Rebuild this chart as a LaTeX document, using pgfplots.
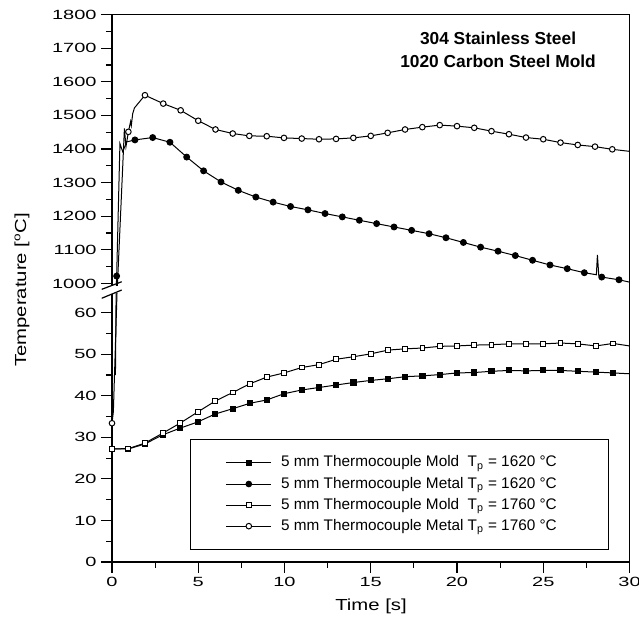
\documentclass[border=0pt]{standalone}
\usepackage{fontspec}
\setmainfont{Liberation Sans}
\newfontfamily\tickfont[FakeStretch=1.5]{Liberation Sans}
\newfontfamily\labfont[FakeStretch=1.27]{Liberation Sans}
\usepackage{pgfplots}
\usepackage{pgfplotstable}
\pgfplotsset{compat=1.18}

% Metal, Tp = 1620 C (filled circles)
\pgfplotstableread{
t T
0.20 45
0.24 66
0.25 990
0.27 1022
0.46 1416
0.62 1392
0.85 1421
1.33 1427
2.36 1434
3.36 1420
4.33 1376
5.31 1335
6.32 1302
7.32 1277
8.34 1257
9.34 1242
10.35 1229
11.36 1219
12.35 1208
13.35 1198
14.34 1188
15.34 1178
16.35 1168
17.37 1158
18.38 1148
19.36 1136
20.37 1122
21.37 1108
22.38 1096
23.38 1083
24.38 1069
25.39 1055
26.39 1044
27.38 1032
28.08 1026
28.14 1085
28.22 1023
28.39 1019
29.39 1011
30.00 1004
}\metalA

% Metal, Tp = 1760 C (open circles)
\pgfplotstableread{
t T
0.00 33.4
0.08 36.2
0.30 66
0.31 990
0.72 1461
0.81 1407
0.95 1451
1.08 1482
1.12 1470
1.20 1505
1.30 1522
1.91 1560
2.97 1535
3.98 1515
5.00 1484
6.00 1458
7.00 1446
7.96 1439
8.97 1438
9.97 1433
11.00 1431
12.00 1429
12.99 1430
13.99 1433
15.00 1439
15.98 1448
16.99 1458
17.99 1465
19.00 1471
20.00 1468
21.00 1463
22.00 1453
23.01 1444
24.00 1434
25.00 1429
26.00 1419
27.00 1412
28.00 1407
29.00 1399
30.00 1393
}\metalB

% Mold, Tp = 1620 C (filled squares)
\pgfplotstableread{
t T
0.00 27.2
0.95 27.2
1.90 28.4
2.94 30.6
3.94 32.2
4.97 33.7
5.97 35.6
7.00 36.9
8.00 38.2
8.97 39.0
9.97 40.5
11.00 41.4
12.00 42.0
13.00 42.6
14.00 43.2
15.00 43.7
16.00 44.1
17.00 44.6
18.00 44.8
19.00 45.1
20.00 45.5
21.00 45.6
22.00 45.9
23.00 46.1
24.00 46.0
25.00 46.1
26.00 46.1
27.00 45.9
28.05 45.7
29.05 45.5
30.00 45.3
}\moldA

% Mold, Tp = 1760 C (open squares)
\pgfplotstableread{
t T
0.00 27.2
0.95 27.3
1.90 28.6
2.94 31.0
3.94 33.4
4.97 36.1
5.97 38.7
7.00 40.8
8.00 42.9
8.97 44.5
9.97 45.5
11.00 46.8
12.00 47.5
13.00 48.8
14.00 49.4
15.00 50.1
16.00 51.0
17.00 51.3
18.00 51.5
19.00 51.9
20.00 52.0
21.00 52.2
22.00 52.3
23.00 52.5
24.00 52.5
25.00 52.5
26.00 52.7
27.00 52.5
28.05 52.0
29.05 52.6
30.00 52.0
}\moldB

\begin{document}
\begin{tikzpicture}
\path[use as bounding box] (-84pt,-50.25pt) rectangle (395.25pt,421.5pt);
\pgfplotsset{
  brk/.style={scale only axis, width=388.125pt, xmin=0, xmax=30,
    axis line style={line width=1pt, black},
    tick align=outside, major tick length=8pt, minor tick length=4.5pt,
    tick style={line width=0.9pt, black},
    tick label style={font=\tickfont\fontsize{10}{12}\selectfont},
    /pgf/number format/assume math mode=true,
    /pgf/number format/1000 sep={},
    clip=true},
  dl/.style={black, line width=0.75pt},
}
\begin{axis}[brk, name=lower, at={(0pt,0pt)}, anchor=south west,
  height=201pt, ymin=0, ymax=64.5,
  axis x line*=bottom, axis y line*=left,
  xtick={0,5,10,15,20,25,30}, minor x tick num=1,
  ytick={0,10,20,30,40,50,60}, minor y tick num=1,
  legend cell align=left,
  legend style={at={(0.1507,0.0448)}, anchor=south west, draw=black,
    line width=0.75pt, fill=white, font=\fontsize{11.5}{13}\selectfont,
    inner xsep=26.5pt, inner ysep=10.5pt, row sep=1.8pt, column sep=6pt,
    nodes={inner sep=1pt, text height=9pt, text depth=3pt}},
  legend image code/.code={\draw[mark repeat=2,mark phase=2,#1] plot coordinates {(0pt,0pt) (16.875pt,0pt) (33.75pt,0pt)};}
]
\addplot[dl, forget plot, mark=square*, mark size=1.9pt,
  mark indices={1,2,3,4,5,6,7,8,9,10,11,12,13,14,15,16,17,18,19,20,21,22,23,24,25,26,27,28,29,30}]
  table[x=t,y=T] {\moldA};
\addplot[dl, forget plot] table[x=t,y=T] {\metalA};
\addplot[dl, forget plot, mark=square*, mark size=1.8pt, mark options={fill=white},
  mark indices={1,2,3,4,5,6,7,8,9,10,11,12,13,14,15,16,17,18,19,20,21,22,23,24,25,26,27,28,29,30}]
  table[x=t,y=T] {\moldB};
\addplot[dl, forget plot, mark=*, mark size=2.1pt, mark options={fill=white}, mark indices={1}]
  table[x=t,y=T] {\metalB};
\addlegendimage{dl, mark=square*, mark size=1.8pt}
\addlegendentry{\makebox[0pt][l]{5 mm Thermocouple Mold}\phantom{5 mm Thermocouple Metal} T\textsubscript{p} = 1620 °C\rule{11pt}{0pt}}
\addlegendimage{dl, mark=*, mark size=2.1pt}
\addlegendentry{5 mm Thermocouple Metal T\textsubscript{p} = 1620 °C\rule{11pt}{0pt}}
\addlegendimage{dl, mark=square*, mark size=1.8pt, mark options={fill=white}}
\addlegendentry{\makebox[0pt][l]{5 mm Thermocouple Mold}\phantom{5 mm Thermocouple Metal} T\textsubscript{p} = 1760 °C\rule{11pt}{0pt}}
\addlegendimage{dl, mark=*, mark size=2.1pt, mark options={fill=white}}
\addlegendentry{5 mm Thermocouple Metal T\textsubscript{p} = 1760 °C\rule{11pt}{0pt}}
\end{axis}

\begin{axis}[brk, name=upper, at={(0pt,207.375pt)}, anchor=south west,
  height=203.25pt, ymin=994, ymax=1800,
  axis x line*=top, axis y line*=left,
  xtick=\empty,
  ytick={1000,1100,1200,1300,1400,1500,1600,1700,1800}, minor y tick num=1]
\addplot[dl, mark=*, mark size=2.2pt,
  mark indices={1,5,6,7,8,9,10,11,12,13,14,15,16,17,18,19,20,21,22,23,24,25,26,27,28,29,30,31,35,36}]
  table[x=t,y=T] {\metalA};
\addplot[dl, mark=*, mark size=2.1pt, mark options={fill=white},
  mark indices={3,8,9,10,11,12,13,14,15,16,17,18,19,20,21,22,23,24,25,26,27,28,29,30,31,32,33,34,35}]
  table[x=t,y=T] {\metalB};
\node[font=\bfseries\fontsize{13}{17.5}\selectfont, align=center] at (rel axis cs:0.746,0.869) {304 Stainless Steel\\1020 Carbon Steel Mold};
\end{axis}

\draw[line width=1pt] (lower.south east) -- (upper.north east);
\draw[line width=0.9pt] (-7.7pt,204.5pt) -- (7.3pt,210.2pt);
\draw[line width=0.9pt] (-7.7pt,197.8pt) -- (7.3pt,204.0pt);
\node[font=\labfont\fontsize{12}{14}\selectfont, rotate=90] at (-67.5pt,204pt) {Temperature [\textsuperscript{o}C]};
\node[font=\labfont\fontsize{12}{14}\selectfont] at (194.25pt,-33.5pt) {Time [s]};
\end{tikzpicture}
\end{document}
